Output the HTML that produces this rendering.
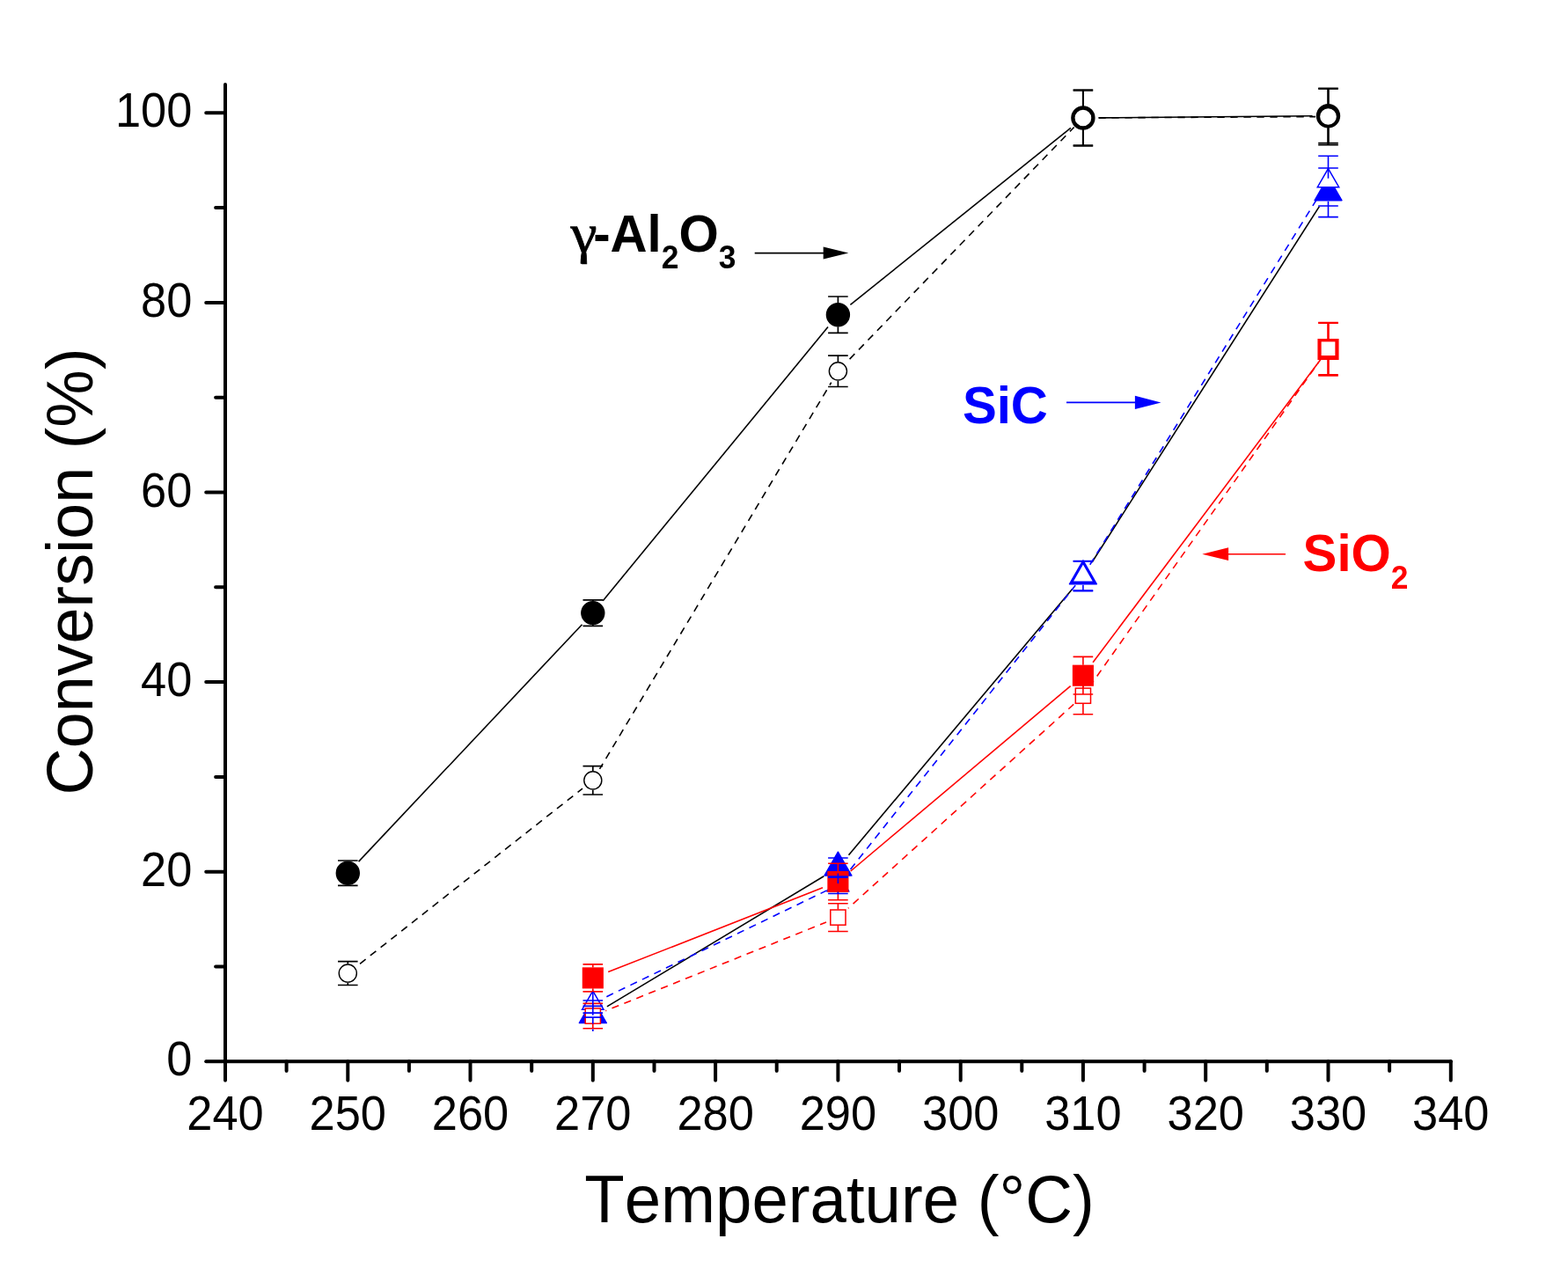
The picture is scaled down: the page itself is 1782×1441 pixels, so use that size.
<!DOCTYPE html>
<html lang="en">
<head>
<meta charset="utf-8">
<title>Conversion vs Temperature</title>
<style>
html,body{margin:0;padding:0;background:#fff;}
body{width:1782px;height:1441px;overflow:hidden;}
svg{display:block;}
text{font-family:"Liberation Sans",Arial,Helvetica,sans-serif;fill:#000;font-kerning:none;font-variant-ligatures:none;}
.tk text{font-size:52.4px;}
.ttl{font-size:73.7px;}
.ttl2{font-size:74.4px;}
.an{font-size:58.2px;font-weight:bold;}
.an .sb{font-size:35.4px;}
.gm{font-family:"Liberation Serif","DejaVu Serif",serif;font-weight:normal;font-size:63px;stroke:#000;stroke-width:0.7px;}
</style>
</head>
<body>
<svg width="1782" height="1441" viewBox="0 0 1782 1441">
<rect width="1782" height="1441" fill="#fff"/>
<g stroke="#000" stroke-width="4.0" stroke-linecap="round" fill="none">
<path d="M256 96V1227.8"/>
<path d="M234.2 1206.3H1648.9"/>
<path d="M245.1 1098.5H256M234.2 990.7H256M245.1 882.9H256M234.2 775.1H256M245.1 667.3H256M234.2 559.5H256M245.1 451.7H256M234.2 343.9H256M245.1 236.1H256M234.2 128.3H256M325.6 1206.3V1216.9M395.3 1206.3V1227.8M464.9 1206.3V1216.9M534.5 1206.3V1227.8M604.2 1206.3V1216.9M673.8 1206.3V1227.8M743.5 1206.3V1216.9M813.1 1206.3V1227.8M882.7 1206.3V1216.9M952.4 1206.3V1227.8M1022.0 1206.3V1216.9M1091.7 1206.3V1227.8M1161.3 1206.3V1216.9M1230.9 1206.3V1227.8M1300.6 1206.3V1216.9M1370.2 1206.3V1227.8M1439.8 1206.3V1216.9M1509.5 1206.3V1227.8M1579.1 1206.3V1216.9M1648.8 1206.3V1227.8"/>
</g>
<g class="tk" text-anchor="end">
<text transform="translate(218.4 1222.4) scale(1 1.045)">0</text>
<text transform="translate(218.4 1006.8) scale(1 1.045)">20</text>
<text transform="translate(218.4 791.2) scale(1 1.045)">40</text>
<text transform="translate(218.4 575.6) scale(1 1.045)">60</text>
<text transform="translate(218.4 360.0) scale(1 1.045)">80</text>
<text transform="translate(218.4 144.4) scale(1 1.045)">100</text>
</g>
<g class="tk" text-anchor="middle">
<text transform="translate(256.0 1284.4) scale(1 1.045)">240</text>
<text transform="translate(395.3 1284.4) scale(1 1.045)">250</text>
<text transform="translate(534.5 1284.4) scale(1 1.045)">260</text>
<text transform="translate(673.8 1284.4) scale(1 1.045)">270</text>
<text transform="translate(813.1 1284.4) scale(1 1.045)">280</text>
<text transform="translate(952.4 1284.4) scale(1 1.045)">290</text>
<text transform="translate(1091.7 1284.4) scale(1 1.045)">300</text>
<text transform="translate(1230.9 1284.4) scale(1 1.045)">310</text>
<text transform="translate(1370.2 1284.4) scale(1 1.045)">320</text>
<text transform="translate(1509.5 1284.4) scale(1 1.045)">330</text>
<text transform="translate(1648.8 1284.4) scale(1 1.045)">340</text>
</g>
<text class="ttl2" text-anchor="middle" transform="translate(954.0 1389.4) scale(1 1.03)">Temperature (°C)</text>
<text class="ttl" text-anchor="middle" transform="translate(104.9 649.5) rotate(-90) scale(1 1.015)">Conversion (%)</text>
<path d="M407.6 979.1L661.5 709.7" stroke="#000" stroke-width="1.60" fill="none"/>
<path d="M685.2 682.7L941.0 371.6" stroke="#000" stroke-width="1.60" fill="none"/>
<path d="M966.4 346.4L1216.9 145.3" stroke="#000" stroke-width="1.60" fill="none"/>
<path d="M1248.9 133.9L1491.5 131.8" stroke="#000" stroke-width="1.60" fill="none"/>
<path d="M407.1 1096.8L662.0 896.1" stroke="#000" stroke-width="1.60" fill="none" stroke-dasharray="8.3 6.7" stroke-dashoffset="-2.5"/>
<path d="M681.5 873.9L944.7 434.7" stroke="#000" stroke-width="1.60" fill="none" stroke-dasharray="8.3 6.7" stroke-dashoffset="1.2"/>
<path d="M962.8 411.0L1220.7 144.5" stroke="#000" stroke-width="1.60" fill="none" stroke-dasharray="8.3 6.7" stroke-dashoffset="-4.0"/>
<path d="M1245.9 133.9L1495.1 132.6" stroke="#000" stroke-width="1.60" fill="none" stroke-dasharray="8.3 6.7" stroke-dashoffset="-2.5"/>
<path d="M689.9 1143.9L936.3 995.8" stroke="#000" stroke-width="1.60" fill="none"/>
<path d="M964.5 971.7L1218.8 669.2" stroke="#000" stroke-width="1.60" fill="none"/>
<path d="M1241.0 639.0L1499.4 234.6" stroke="#000" stroke-width="1.60" fill="none"/>
<path d="M686.4 1134.1L939.8 1011.9" stroke="#0000ff" stroke-width="1.60" fill="none" stroke-dasharray="8.3 6.7" stroke-dashoffset="-3.3"/>
<path d="M961.1 994.8L1222.2 665.3" stroke="#0000ff" stroke-width="1.60" fill="none" stroke-dasharray="8.3 6.7" stroke-dashoffset="-8.7"/>
<path d="M1238.3 642.4L1502.1 217.5" stroke="#0000ff" stroke-width="1.60" fill="none" stroke-dasharray="8.3 6.7" stroke-dashoffset="-0.8"/>
<path d="M691.2 1104.6L935.0 1008.8" stroke="#ff0000" stroke-width="1.60" fill="none"/>
<path d="M966.7 990.0L1216.6 779.7" stroke="#ff0000" stroke-width="1.60" fill="none"/>
<path d="M1242.1 752.8L1498.3 411.9" stroke="#ff0000" stroke-width="1.60" fill="none"/>
<path d="M688.4 1148.7L939.0 1048.0" stroke="#ff0000" stroke-width="1.60" fill="none" stroke-dasharray="8.3 6.7" stroke-dashoffset="7.4"/>
<path d="M964.0 1032.1L1220.2 800.4" stroke="#ff0000" stroke-width="1.60" fill="none" stroke-dasharray="8.3 6.7" stroke-dashoffset="7.5"/>
<path d="M1240.0 777.9L1501.2 408.0" stroke="#ff0000" stroke-width="1.60" fill="none" stroke-dasharray="8.3 6.7" stroke-dashoffset="3.4"/>
<circle cx="395.3" cy="992.2" r="13.00" fill="#000" stroke="#000" stroke-width="1.40"/>
<circle cx="673.8" cy="696.6" r="13.00" fill="#000" stroke="#000" stroke-width="1.40"/>
<circle cx="952.4" cy="357.7" r="13.00" fill="#000" stroke="#000" stroke-width="1.40"/>
<circle cx="1230.9" cy="134.0" r="13.00" fill="#000" stroke="#000" stroke-width="1.40"/>
<circle cx="1509.5" cy="131.7" r="13.00" fill="#000" stroke="#000" stroke-width="1.40"/>
<circle cx="395.3" cy="1106.1" r="10.05" fill="#fff" stroke="#000" stroke-width="1.40"/>
<circle cx="673.8" cy="886.8" r="10.05" fill="#fff" stroke="#000" stroke-width="1.40"/>
<circle cx="952.4" cy="421.8" r="10.05" fill="#fff" stroke="#000" stroke-width="1.40"/>
<circle cx="1230.9" cy="134.0" r="10.05" fill="#fff" stroke="#000" stroke-width="1.40"/>
<circle cx="1509.5" cy="132.5" r="10.05" fill="#fff" stroke="#000" stroke-width="1.40"/>
<path d="M673.80 1135.70L689.30 1162.55L658.30 1162.55Z" fill="#0000ff" stroke="#0000ff" stroke-width="1.40" stroke-linejoin="round"/>
<path d="M952.40 968.20L967.90 995.05L936.90 995.05Z" fill="#0000ff" stroke="#0000ff" stroke-width="1.40" stroke-linejoin="round"/>
<path d="M1230.90 636.90L1246.40 663.75L1215.40 663.75Z" fill="#0000ff" stroke="#0000ff" stroke-width="1.40" stroke-linejoin="round"/>
<path d="M1509.50 200.90L1525.00 227.75L1494.00 227.75Z" fill="#0000ff" stroke="#0000ff" stroke-width="1.40" stroke-linejoin="round"/>
<path d="M673.80 1126.11L686.00 1147.24L661.60 1147.24Z" fill="#fff" stroke="#0000ff" stroke-width="1.50" stroke-linejoin="miter"/>
<path d="M952.40 991.71L964.60 1012.84L940.20 1012.84Z" fill="#fff" stroke="#0000ff" stroke-width="1.50" stroke-linejoin="miter"/>
<path d="M1230.90 640.21L1243.10 661.34L1218.70 661.34Z" fill="#fff" stroke="#0000ff" stroke-width="1.50" stroke-linejoin="miter"/>
<path d="M1509.50 191.51L1521.70 212.64L1497.30 212.64Z" fill="#fff" stroke="#0000ff" stroke-width="1.50" stroke-linejoin="miter"/>
<rect x="662.45" y="1100.05" width="22.70" height="22.70" fill="#ff0000" stroke="#ff0000" stroke-width="1.40"/>
<rect x="941.05" y="990.65" width="22.70" height="22.70" fill="#ff0000" stroke="#ff0000" stroke-width="1.40"/>
<rect x="1219.55" y="756.35" width="22.70" height="22.70" fill="#ff0000" stroke="#ff0000" stroke-width="1.40"/>
<rect x="1498.15" y="385.65" width="22.70" height="22.70" fill="#ff0000" stroke="#ff0000" stroke-width="1.40"/>
<rect x="665.20" y="1146.00" width="17.20" height="17.20" fill="#fff" stroke="#ff0000" stroke-width="1.50"/>
<rect x="943.80" y="1034.00" width="17.20" height="17.20" fill="#fff" stroke="#ff0000" stroke-width="1.50"/>
<rect x="1222.30" y="782.10" width="17.20" height="17.20" fill="#fff" stroke="#ff0000" stroke-width="1.50"/>
<rect x="1500.90" y="387.60" width="17.20" height="17.20" fill="#fff" stroke="#ff0000" stroke-width="1.50"/>
<path d="M395.3 978.0V978.7M395.3 1005.7V1006.4M384.0 978.0h22.6M384.0 1006.4h22.6M673.8 681.9V683.1M673.8 710.1V711.3M662.5 681.9h22.6M662.5 711.3h22.6M952.4 337.0V344.2M952.4 371.2V378.4M941.1 337.0h22.6M941.1 378.4h22.6M1230.9 103.0V120.5M1230.9 147.5V165.0M1219.6 103.0h22.6M1219.6 165.0h22.6M1509.5 100.8V118.2M1509.5 145.2V162.6M1498.2 100.8h22.6M1498.2 162.6h22.6" stroke="#000" stroke-width="1.70" fill="none"/>
<path d="M395.3 1092.7V1095.5M395.3 1116.7V1119.5M384.0 1092.7h22.6M384.0 1119.5h22.6M673.8 870.6V876.2M673.8 897.4V903.0M662.5 870.6h22.6M662.5 903.0h22.6M952.4 404.1V411.2M952.4 432.4V439.5M941.1 404.1h22.6M941.1 439.5h22.6M1230.9 102.0V123.4M1230.9 144.6V166.0M1219.6 102.0h22.6M1219.6 166.0h22.6M1509.5 100.4V121.9M1509.5 143.1V164.6M1498.2 100.4h22.6M1498.2 164.6h22.6" stroke="#000" stroke-width="1.70" fill="none"/>
<path d="M673.8 1095.9V1099.5M673.8 1123.3V1126.9M662.5 1095.9h22.6M662.5 1126.9h22.6M952.4 981.3V990.1M952.4 1013.9V1022.7M941.1 981.3h22.6M941.1 1022.7h22.6M1230.9 746.4V755.8M1230.9 779.6V789.0M1219.6 746.4h22.6M1219.6 789.0h22.6M1509.5 367.1V385.1M1509.5 408.9V426.9M1498.2 367.1h22.6M1498.2 426.9h22.6" stroke="#ff0000" stroke-width="1.60" fill="none"/>
<path d="M673.8 1140.4V1145.4M673.8 1163.8V1168.8M662.5 1140.4h22.6M662.5 1168.8h22.6M952.4 1026.7V1033.4M952.4 1051.8V1058.5M941.1 1026.7h22.6M941.1 1058.5h22.6M1230.9 769.7V781.5M1230.9 799.9V811.7M1219.6 769.7h22.6M1219.6 811.7h22.6M1509.5 366.6V387.0M1509.5 405.4V425.8M1498.2 366.6h22.6M1498.2 425.8h22.6" stroke="#ff0000" stroke-width="1.60" fill="none"/>
<path d="M1230.9 103V120.5M1230.9 147.5V165M1509.5 101V118.2M1509.5 145.2V164" stroke-width="2.1" fill="none" stroke="#000"/>
<path d="M1509.5 367.5V385M1509.5 409V426.5" stroke-width="2.2" fill="none" stroke="#ff0000"/>
<path d="M662.5 1151.1h22.6M662.5 1156.1h22.6M941.1 975.0h22.6M941.1 997.2h22.6M1219.6 638.0h22.6M1219.6 671.6h22.6M1498.2 191.0h22.6M1498.2 246.6h22.6" stroke="#0000ff" stroke-width="1.60" fill="none"/>
<path d="M662.5 1137.0h22.6M662.5 1143.4h22.6M941.1 996.1h22.6M941.1 1015.5h22.6M1219.6 637.5h22.6M1219.6 671.1h22.6M1498.2 177.2h22.6M1498.2 234.0h22.6" stroke="#0000ff" stroke-width="1.60" fill="none"/>
<path d="M673.8 1127V1153.7M673.8 1156.4V1163.4M673.8 1169.5V1172M952.4 992.4V1003.9M952.4 1013.5V1015.5M1230.9 664.7V670.9M1509.5 177.5V202.7M1509.5 228.7V246.5" stroke="#0000ff" stroke-width="1.6" fill="none"/>
<text class="gm" transform="translate(648.4 285.6) scale(1.08 1)">γ</text>
<text class="an" transform="translate(674.2 286.2) scale(1 1.02)">-Al<tspan class="sb" dy="18.9">2</tspan><tspan dy="-18.9">O</tspan><tspan class="sb" dy="18.9">3</tspan></text>
<path d="M857.7 287.6H941.4" stroke="#000" stroke-width="1.6" fill="none"/>
<path d="M964.3 287.6L935.7 280.6L935.7 294.6Z" fill="#000"/>
<text class="an" transform="translate(1093.9 481) scale(1 1.02)" style="fill:#0000ff">SiC</text>
<path d="M1212.0 457.4H1295.8" stroke="#0000ff" stroke-width="1.6" fill="none"/>
<path d="M1319.5 457.4L1289.9 449.7L1289.9 465.1Z" fill="#0000ff"/>
<text class="an" transform="translate(1480.6 649.2) scale(1 1.02)" style="fill:#ff0000">SiO<tspan class="sb" dy="19.2">2</tspan></text>
<path d="M1461.0 629.7H1390.1" stroke="#ff0000" stroke-width="1.6" fill="none"/>
<path d="M1366.3 629.7L1396.1 622.3L1396.1 637.1Z" fill="#ff0000"/>
</svg>
</body>
</html>
